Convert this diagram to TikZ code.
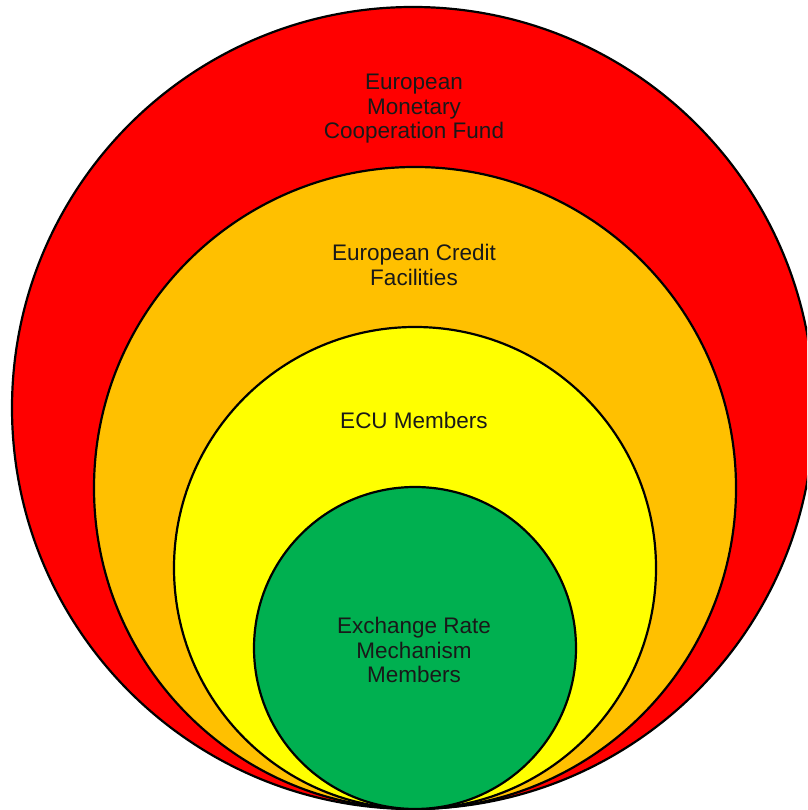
\documentclass[tikz,border=0pt]{standalone}
\usepackage{fontspec}
\setmainfont{Liberation Sans}
\usepackage{tikz}
\usetikzlibrary{calc}

\definecolor{fundred}{RGB}{255,0,0}
\definecolor{creditorange}{RGB}{255,192,0}
\definecolor{ecuyellow}{RGB}{255,255,0}
\definecolor{ermgreen}{RGB}{0,176,80}

\tikzset{
  ring/.style={draw=black,line width=2.2pt},
  ringlabel/.style={align=center,font=\fontsize{22.5}{24.5}\selectfont,text=black!90}
}

\begin{document}
\begin{tikzpicture}[x=1pt,y=1pt]

\clip (0,0) rectangle (807,810);

\coordinate (R) at (413,402);
\coordinate (O) at (415,322);
\coordinate (Y) at (415,242);
\coordinate (G) at (415,162);

\filldraw[ring,fill=fundred] (R) circle (401);
\filldraw[ring,fill=creditorange] (O) circle (321);
\filldraw[ring,fill=ecuyellow] (Y) circle (241);
\filldraw[ring,fill=ermgreen] (G) circle (161);

\node[ringlabel] (fund) at (414,701) {European\\Monetary\\Cooperation Fund};
\node[ringlabel] (credit) at (414,545) {European Credit\\Facilities};
\node[ringlabel] (ecu) at (414,390) {ECU Members};
\node[ringlabel] (erm) at (414,160) {Exchange Rate\\Mechanism\\Members};

\end{tikzpicture}
\end{document}
